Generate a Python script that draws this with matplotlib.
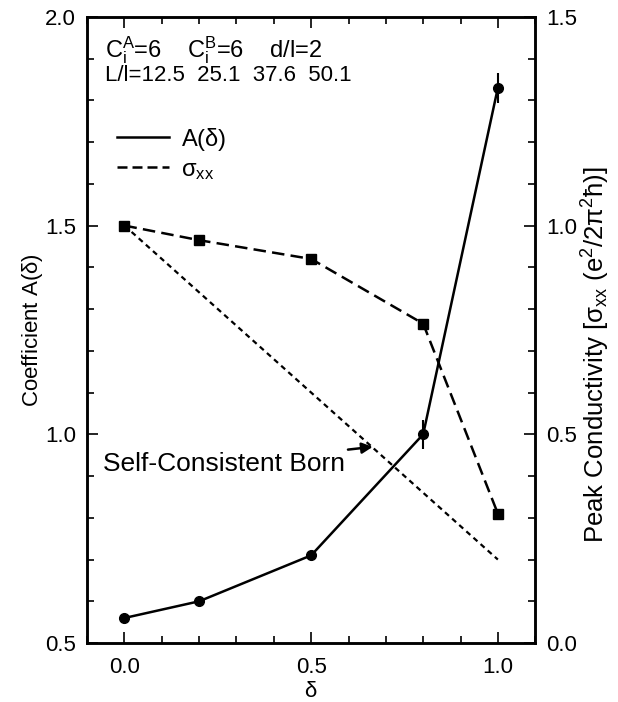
import numpy as np
import matplotlib
matplotlib.use("Agg")
import matplotlib.pyplot as plt
from matplotlib.lines import Line2D
from matplotlib.ticker import MultipleLocator, FormatStrFormatter

plt.rcParams['font.family'] = ['Liberation Sans', 'DejaVu Sans']
plt.rcParams['mathtext.default'] = 'regular'

# data
delta = [0.0, 0.2, 0.5, 0.8, 1.0]
A_delta = [0.56, 0.60, 0.71, 1.00, 1.83]
A_err = [0.0, 0.0, 0.0, 0.035, 0.036]
sigma_xx = [1.00, 0.965, 0.92, 0.765, 0.31]
born_delta = [0.0, 0.5, 1.0]
born_sigma = [1.00, 0.60, 0.20]

fig = plt.figure(figsize=(6.18, 7.02), dpi=100)
ax = fig.add_axes([0.141, 0.084, 0.725, 0.892])
ax2 = ax.twinx()

lw = 1.8
ax.errorbar(delta, A_delta, yerr=A_err, color='k', lw=lw, marker='o', ms=7,
            elinewidth=1.5, capsize=0, zorder=3)
ax2.plot(delta, sigma_xx, color='k', lw=lw, ls=(0, (5, 2.5)), marker='s', ms=7,
         zorder=3)
ax2.plot(born_delta, born_sigma, color='k', lw=1.6, ls=(0, (2.4, 1.9)))

ax.set_xlim(-0.1, 1.1)
ax.set_ylim(0.5, 2.0)
ax2.set_ylim(0.0, 1.5)

ax.xaxis.set_major_locator(MultipleLocator(0.5))
ax.xaxis.set_minor_locator(MultipleLocator(0.1))
ax.yaxis.set_major_locator(MultipleLocator(0.5))
ax.yaxis.set_minor_locator(MultipleLocator(0.1))
ax2.yaxis.set_major_locator(MultipleLocator(0.5))
ax2.yaxis.set_minor_locator(MultipleLocator(0.1))

for a in (ax, ax2):
    for s in a.spines.values():
        s.set_linewidth(1.8)
    a.tick_params(which='both', direction='in', labelsize=16, width=1.2)
    a.tick_params(which='major', length=8, pad=8)
    a.tick_params(which='minor', length=5)
    a.yaxis.set_major_formatter(FormatStrFormatter('%.1f'))
ax.tick_params(which='both', top=True)
ax.tick_params(axis='x', which='major', pad=10)
ax.xaxis.set_major_formatter(FormatStrFormatter('%.1f'))

ax.set_xlabel(r'$\delta$', fontsize=16, labelpad=2)
ax.set_ylabel(r'Coefficient A($\delta$)', fontsize=16)
ax.yaxis.set_label_coords(-0.095, 0.5)
ax2.set_ylabel(r'Peak Conductivity [$\sigma_{xx}$ (e$^2$/2$\pi^2\hbar$)]',
               fontsize=18.5)
ax2.yaxis.set_label_coords(1.1, 0.46)

ax.text(0.04, 0.947, r'C$_i^A$=6    C$_i^B$=6    d/l=2', transform=ax.transAxes,
        fontsize=17, va='center', ha='left')
ax.text(0.04, 0.907, 'L/l=12.5  25.1  37.6  50.1', transform=ax.transAxes,
        fontsize=16, va='center', ha='left')

handles = [Line2D([], [], color='k', lw=lw),
           Line2D([], [], color='k', lw=lw, ls=(0, (4, 2)))]
ax.legend(handles, [r'A($\delta$)', r'$\sigma_{xx}$'], loc='upper left',
          bbox_to_anchor=(0.02, 0.86), frameon=False, fontsize=17,
          handlelength=2.2, handletextpad=0.5, labelspacing=0.25)

ax.annotate('Self-Consistent Born', xy=(0.665, 0.97), xytext=(-0.057, 0.93),
            fontsize=19, va='center', ha='left',
            arrowprops=dict(arrowstyle='-|>', color='k', lw=1.8,
                            mutation_scale=16, shrinkA=0, shrinkB=0))

fig.savefig('out.png', dpi=100)
